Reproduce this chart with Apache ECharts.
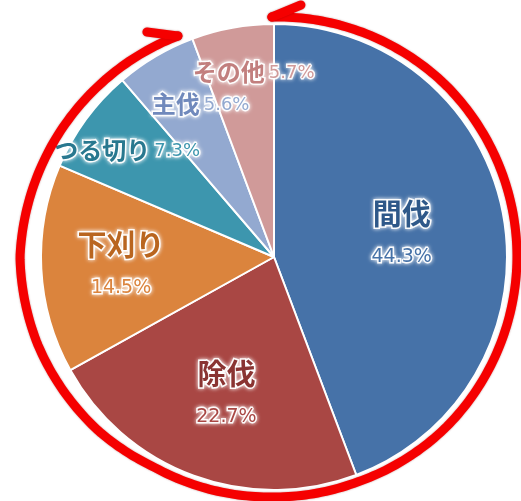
<!DOCTYPE html>
<html><head><meta charset="utf-8">
<script src="https://cdn.jsdelivr.net/npm/echarts@6/dist/echarts.min.js"></script>
<style>html,body{margin:0;padding:0;background:#fff}#c{width:521px;height:501px}</style>
</head><body><div id="c"></div>
<script>
// ---- data ----
const categories = ['間伐', '除伐', '下刈り', 'つる切り', '主伐', 'その他'];
const values = [44.3, 22.7, 14.5, 7.3, 5.6, 5.7];

// ---- styles ----
const colors = ['#4672A8', '#A94744', '#DB843D', '#3D96AE', '#93A9D0', '#D09A99'];
const nameColors = ['#2E5889', '#8A3432', '#B9651F', '#28788F', '#7089BC', '#C27F7E'];
const twoLine = [true, true, true, false, false, false];
const labelRatio = [0.558, 0.618, 0.657, 0.781, 0.73, 0.80];
const labelShift = [0, -1, 0, 0, 5, 4];
const CX = 274, CY = 257, R = 233;
const FONT = '"Noto Sans CJK JP", "Noto Sans", sans-serif';
const NUMFONT = '"DejaVu Sans", sans-serif';

// decorative hand-drawn red ring: [angle clockwise from top (deg), distance outside the pie (px)]
const ringProfile = [[-0.5, 7], [45, 10], [90, 10], [135, 9], [160, 7], [180, 7], [210, 9], [225, 14], [250, 19], [270, 21], [300, 15], [315, 12], [336.7, 8]];

const glow = {textBorderColor: 'rgba(255,255,255,0.95)', textBorderWidth: 3,
  textShadowColor: 'rgba(255,255,255,0.9)', textShadowBlur: 4};

function richFor(i) {
  return {
    n: Object.assign({color: nameColors[i], fontFamily: FONT, fontSize: 29, fontWeight: 'bold', lineHeight: 46}, glow),
    p: Object.assign({color: colors[i], fontFamily: NUMFONT, fontSize: 19, lineHeight: 40}, glow),
    sn: Object.assign({color: nameColors[i], fontFamily: FONT, fontSize: 24, fontWeight: 'bold', lineHeight: 30}, glow),
    sp: Object.assign({color: colors[i], fontFamily: NUMFONT, fontSize: 18, lineHeight: 30, padding: [3, 0, 0, 4]}, glow)
  };
}

function ringPoints() {
  const pts = [];
  const a0 = ringProfile[0][0], a1 = ringProfile[ringProfile.length - 1][0];
  for (let a = a0; a <= a1 + 0.001; a += 1) {
    let k = 0;
    while (k < ringProfile.length - 2 && ringProfile[k + 1][0] < a) k++;
    const p = ringProfile[k], q = ringProfile[k + 1];
    const t = Math.min(1, Math.max(0, (a - p[0]) / (q[0] - p[0])));
    const off = p[1] + (q[1] - p[1]) * t;
    const rad = a * Math.PI / 180, rr = R + off;
    pts.push([CX + rr * Math.sin(rad), CY - rr * Math.cos(rad)]);
  }
  return pts;
}
const ring = ringPoints();
const startPt = ring[0], endPt = ring[ring.length - 1];

const redStyle = {fill: null, stroke: '#F50000', lineWidth: 9, lineCap: 'round', lineJoin: 'round',
  shadowBlur: 2, shadowColor: 'rgba(120,0,0,0.45)'};

const chart = echarts.init(document.getElementById('c'));
chart.setOption({
  animation: false,
  series: [{
    type: 'pie',
    center: [CX, CY],
    radius: [0, R],
    startAngle: 90,
    clockwise: true,
    silent: true,
    avoidLabelOverlap: false,
    itemStyle: {borderColor: '#fff', borderWidth: 2},
    labelLine: {show: false},
    label: {
      show: true,
      position: 'inside',
      formatter: function (p) {
        const pct = p.value.toFixed(1) + '%';
        return twoLine[p.dataIndex] ? '{n|' + p.name + '}\n{p|' + pct + '}' : '{sn|' + p.name + '}{sp|' + pct + '}';
      }
    },
    labelLayout: function (p) {
      const r = p.labelRect;
      const lx = r.x + r.width / 2, ly = r.y + r.height / 2;
      const ang = Math.atan2(ly - CY, lx - CX) + labelShift[p.dataIndex] * Math.PI / 180;
      const d = labelRatio[p.dataIndex] * R;
      return {dx: CX + d * Math.cos(ang) - lx, dy: CY + d * Math.sin(ang) - ly};
    },
    data: categories.map(function (n, i) {
      return {name: n, value: values[i], itemStyle: {color: colors[i]}, label: {rich: richFor(i)}};
    })
  }],
  graphic: [
    {type: 'polyline', z: 10, shape: {points: ring}, style: redStyle},
    {type: 'polyline', z: 10, shape: {points: [startPt, [startPt[0] + 29, startPt[1] - 12]]}, style: redStyle},
    {type: 'polyline', z: 10, shape: {points: [endPt, [endPt[0] - 31, endPt[1] - 4]]}, style: redStyle}
  ]
});
</script>
</body></html>
